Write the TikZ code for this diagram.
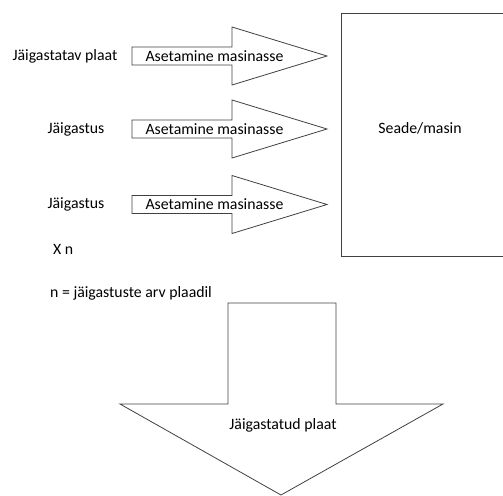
\documentclass[tikz,border=0pt]{standalone}
\usepackage{fontspec}
\setmainfont{Carlito}
\begin{document}
\begin{tikzpicture}[x=1pt,y=-1pt,
  shp/.style={draw=black!75,line width=0.8pt,line join=miter},
  lbl/.style={inner sep=0pt,font=\fontsize{15.8}{19}\selectfont}]
\useasboundingbox (0,0) rectangle (503,495);
% right block arrows
\foreach \n/\m in {1/56,2/129,3/204.5}{
  \draw[shp] (132,\m-9) -- (232,\m-9) -- (232,\m-29) -- (327,\m) -- (232,\m+29) -- (232,\m+9) -- (132,\m+9) -- cycle;
  \node[lbl] (ins\n) at (214.5,\m) {Asetamine masinasse};
}
\node[lbl] (plate) at (65,56) {Jäigastatav plaat};
\node[lbl] (rib1) at (76,129) {Jäigastus};
\node[lbl] (rib2) at (76,204) {Jäigastus};
% machine box (right edge outside the picture)
\node[lbl] (machine) at (420,128) {Seade/masin};
\draw[shp] (504,13) -- (341,13) -- (341,256) -- (504,256);
\node[lbl,anchor=west] (xn) at (53,249) {X n};
\node[lbl,anchor=west] (ndef) at (50,293) {n = jäigastuste arv plaadil};
% down block arrow
\draw[shp] (228,303) -- (336,303) -- (336,404) -- (443,404) -- (281,495) -- (120,404) -- (228,404) -- cycle;
\node[lbl] (result) at (283,425) {Jäigastatud plaat};
\end{tikzpicture}
\end{document}
